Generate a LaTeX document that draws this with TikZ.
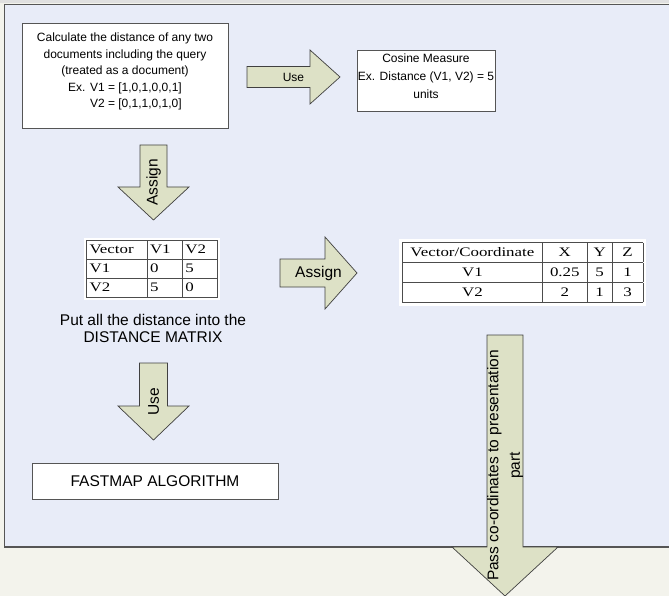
\documentclass[tikz,border=0pt]{standalone}
\usepackage{fontspec}
\setmainfont{Liberation Sans}
\newfontfamily\tabfont[FakeStretch=1.3]{Liberation Serif}
\usepackage{array,colortbl}
\definecolor{panelblue}{HTML}{E8ECF8}
\definecolor{creambg}{HTML}{F3F3EC}
\definecolor{arrowfill}{HTML}{DDE1C6}
\definecolor{edgegray}{HTML}{555555}

\begin{document}
\begin{tikzpicture}[x=1pt,y=-1pt]
    \tikzstyle{textbox}=[draw=edgegray,line width=0.9pt,fill=white,align=center,inner sep=0pt,font=\fontsize{12}{16.5}\selectfont]
    \tikzstyle{box text}=[align=center,inner sep=0pt,yshift=4pt,font=\fontsize{12}{16.5}\selectfont]
    \tikzstyle{fat arrow}=[draw=black!75,line width=0.7pt,fill=arrowfill,line join=miter]
    \tikzstyle{arrow text}=[inner sep=0pt,align=center,font=\fontsize{15.5}{21.5}\selectfont]
    \tikzstyle{table}=[fill=white,inner sep=2pt,font=\tabfont\fontsize{13}{18.7}\selectfont]
    \useasboundingbox (0,0) rectangle (669,596);
    \clip (0,0) rectangle (669,596);
    % background and panel
    \fill[creambg] (0,0) rectangle (669,596);
    \fill[black!12] (0,0) rectangle (669,3);
    \draw[draw=edgegray,line width=1.6pt,fill=panelblue] (4.5,4.5) rectangle (690,547);
    % boxes
    \node(calc)[textbox,minimum width=206,minimum height=105,
        label={[box text]center:{Calculate the distance of any two\\
         documents including the query\\
         (treated as a document)\\
         Ex. V1 = [1,0,1,0,0,1]\\
         \phantom{Ex. }V2 = [0,1,1,0,1,0]}}] at (125,75.5){};
    \node(cosine)[textbox,minimum width=138,minimum height=61,
        label={[box text,font=\fontsize{12}{18}\selectfont]center:{Cosine Measure\\Ex. Distance (V1, V2) = 5\\units}}] at (426,80.5){};
    \node(fastmap)[textbox,minimum width=246,minimum height=36,font=\fontsize{15.5}{18}\selectfont] at (155,481)
        {FASTMAP ALGORITHM};
    % tables
    \node(dist)[table] at (152,269){%
        \setlength\tabcolsep{3pt}\arrayrulecolor{black!70}%
        \begin{tabular}{|w{l}{54pt}|w{l}{29pt}|w{l}{29pt}|}
            \hline
            Vector & V1 & V2\\ \hline
            V1 & 0 & 5\\ \hline
            V2 & 5 & 0\\ \hline
        \end{tabular}};
    \node(coords)[table,inner sep=3pt,font=\tabfont\fontsize{13}{19.5}\selectfont] at (522.5,272.5){%
        \setlength\tabcolsep{3pt}\arrayrulecolor{black!70}%
        \begin{tabular}{|w{c}{134pt}|w{c}{38pt}|w{c}{19pt}|w{c}{24pt}|}
            \hline
            Vector/Coordinate & X & Y & Z\\ \hline
            V1 & 0.25 & 5 & 1\\ \hline
            V2 & 2 & 1 & 3\\ \hline
        \end{tabular}};
    \node(matrixtext)[align=center,font=\fontsize{15.5}{17}\selectfont] at (153,328.5)
        {Put all the distance into the\\DISTANCE MATRIX};
    % block arrows
    \draw[fat arrow] (247,66.5) -- (310,66.5) -- (310,50) -- (340,77)
        -- (310,104) -- (310,87.5) -- (247,87.5) -- cycle;
    \node(use1)[arrow text,font=\fontsize{12}{14}\selectfont] at (293.5,77.5){Use};
    \draw[fat arrow] (140,145) -- (167,145) -- (167,187) -- (189,187) -- (153.5,220)
        -- (118,187) -- (140,187) -- cycle;
    \node(assign1)[arrow text,rotate=90] at (153.5,182.5){Assign};
    \draw[fat arrow] (139.5,363) -- (167.5,363) -- (167.5,406) -- (189,406) -- (153.5,440)
        -- (118,406) -- (139.5,406) -- cycle;
    \node(use2)[arrow text,rotate=90] at (153.5,401.5){Use};
    \draw[fat arrow] (280,259) -- (325,259) -- (325,237) -- (357,273)
        -- (325,309) -- (325,287) -- (280,287) -- cycle;
    \node(assign2)[arrow text] at (318.5,273){Assign};
    \draw[fat arrow] (487,335) -- (523,335) -- (523,547) -- (558,547) -- (505,596)
        -- (452,547) -- (487,547) -- cycle;
    \node(pass)[arrow text,rotate=90] at (505,465.5){Pass co-ordinates to presentation\\part};
\end{tikzpicture}
\end{document}
